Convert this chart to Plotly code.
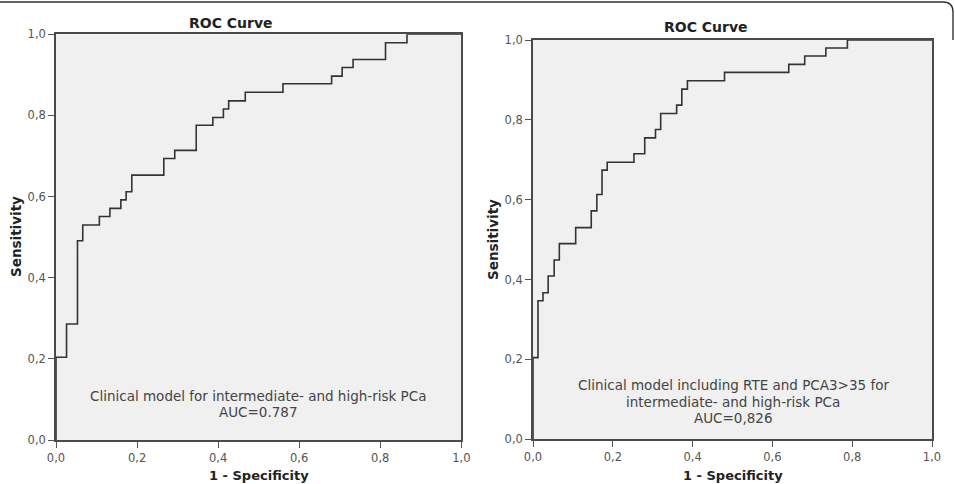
import plotly.graph_objects as go

# ---- data ----
left_fpr = [0, 0, 0.026, 0.053, 0.066, 0.107, 0.133, 0.160, 0.173, 0.187, 0.266, 0.293,
            0.346, 0.387, 0.413, 0.426, 0.467, 0.560, 0.680, 0.706, 0.733, 0.813, 0.866, 1.0]
left_tpr = [0, 0.204, 0.286, 0.491, 0.530, 0.551, 0.571, 0.592, 0.612, 0.653, 0.694, 0.714,
            0.776, 0.795, 0.816, 0.836, 0.857, 0.878, 0.897, 0.918, 0.938, 0.979, 1.0, 1.0]

right_fpr = [0, 0, 0.0125, 0.025, 0.038, 0.053, 0.066, 0.107, 0.146, 0.160, 0.173, 0.186,
             0.253, 0.280, 0.307, 0.320, 0.360, 0.373, 0.387, 0.480, 0.641, 0.681, 0.734, 0.788, 1.0]
right_tpr = [0, 0.2045, 0.347, 0.367, 0.409, 0.449, 0.490, 0.530, 0.572, 0.613, 0.674, 0.694,
             0.715, 0.755, 0.776, 0.816, 0.837, 0.877, 0.898, 0.919, 0.939, 0.960, 0.980, 1.0, 1.0]

tick_vals = [0, 0.2, 0.4, 0.6, 0.8, 1.0]
tick_text = ["0,0", "0,2", "0,4", "0,6", "0,8", "1,0"]

left_label_lines = ["Clinical model for intermediate- and high-risk PCa", "AUC=0.787"]
right_label_lines = ["Clinical model including RTE and PCA3>35 for",
                     "intermediate- and high-risk PCa", "AUC=0,826"]

W, H = 955, 484
FONT = "DejaVu Sans"
LINE = "#4a4a4a"
TICKC = "#555555"

fig = go.Figure()
fig.add_trace(go.Scatter(x=left_fpr, y=left_tpr, mode="lines", line_shape="hv",
                         line=dict(color="#333333", width=1.6), xaxis="x", yaxis="y",
                         showlegend=False, hoverinfo="skip"))
fig.add_trace(go.Scatter(x=right_fpr, y=right_tpr, mode="lines", line_shape="hv",
                         line=dict(color="#333333", width=1.6), xaxis="x2", yaxis="y2",
                         showlegend=False, hoverinfo="skip"))

def px_x(p):
    return p / W

def px_y(p):
    return 1 - p / H

axis_common = dict(range=[0, 1], tickvals=tick_vals, ticktext=tick_text, ticks="outside",
                   ticklen=6, tickwidth=1.2, tickcolor=TICKC, showline=True, mirror=True,
                   linecolor=LINE, linewidth=1.6, showgrid=False, zeroline=False,
                   automargin=False,
                   tickfont=dict(family=FONT, size=11.5, color=TICKC), fixedrange=True)

fig.update_layout(
    width=W, height=H, autosize=False,
    margin=dict(l=0, r=0, t=0, b=0, pad=0, autoexpand=False),
    paper_bgcolor="white", plot_bgcolor="#f0f0f0",
    xaxis=dict(domain=[px_x(56), px_x(461.3)], anchor="y", **axis_common),
    yaxis=dict(domain=[px_y(440), px_y(34.3)], anchor="x", **axis_common),
    xaxis2=dict(domain=[px_x(533), px_x(932)], anchor="y2", **axis_common),
    yaxis2=dict(domain=[px_y(439.3), px_y(40)], anchor="x2", **axis_common),
)

ann = []
def A(text, x, y, size, bold=False, color="#222222", angle=0):
    t = f"<b>{text}</b>" if bold else text
    ann.append(dict(text=t, x=px_x(x), y=px_y(y), xref="paper", yref="paper",
                    showarrow=False, textangle=angle, xanchor="center", yanchor="middle",
                    font=dict(family=FONT, size=size, color=color)))

# titles
A("ROC Curve", 231, 22.5, 14, bold=True)
A("ROC Curve", 706, 27.5, 14, bold=True)
# axis titles
A("Sensitivity", 16, 237, 13.5, bold=True, angle=-90)
A("Sensitivity", 493, 240, 13.5, bold=True, angle=-90)
A("1 - Specificity", 259, 475, 13, bold=True)
A("1 - Specificity", 733, 475, 13, bold=True)
# model labels
for i, t in enumerate(left_label_lines):
    A(t, 258, 395.5 + 16.5 * i, 13.5, color="#444444")
for i, t in enumerate(right_label_lines):
    A(t, 733, 385 + 16.5 * i, 13.5, color="#444444")
fig.update_layout(annotations=ann)

# outer frame (top border with rounded right corner)
fig.add_shape(type="path", xref="paper", yref="paper",
              path=f"M 0,{px_y(2)} L {px_x(943)},{px_y(2)} Q {px_x(953)},{px_y(2)} {px_x(953)},{px_y(12)} L {px_x(953)},{px_y(40)}",
              line=dict(color="#333333", width=1.4))

fig.write_html("out.html")
